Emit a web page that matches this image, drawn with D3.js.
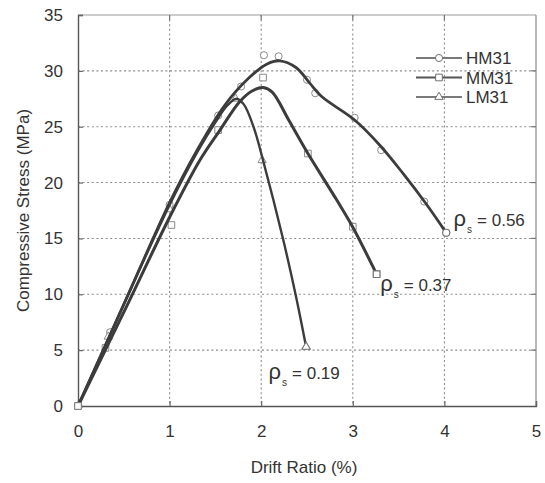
<!DOCTYPE html>
<html>
<head>
<meta charset="utf-8">
<script src="https://cdn.jsdelivr.net/npm/d3@7"></script>
<style>
  html, body { margin: 0; padding: 0; background: #fff; }
  svg { display: block; }
  text { font-family: "Liberation Sans", Arial, sans-serif; fill: #333; }
</style>
</head>
<body>
<svg id="chart" width="545" height="483"></svg>
<script>
// Axis ticks
const xTicks = [0, 1, 2, 3, 4, 5];
const yTicks = [0, 5, 10, 15, 20, 25, 30, 35];

// Series names and legend order
const seriesNames = ["HM31", "MM31", "LM31"];
const seriesSymbols = ["circle", "square", "triangle"];

// Measured points (drift ratio %, compressive stress MPa)
const hm31Points = [[0.35, 6.6], [1.0, 18.0], [1.53, 26.0], [1.78, 28.6], [2.03, 31.4], [2.19, 31.3],
                    [2.5, 29.2], [2.59, 28.0], [3.02, 25.8], [3.31, 22.9], [3.78, 18.3], [4.02, 15.5]];
const mm31Points = [[0, 0], [0.3, 5.2], [1.02, 16.2], [1.53, 24.7], [2.02, 29.4], [2.51, 22.6],
                    [3.0, 16.05], [3.26, 11.8]];
const lm31Points = [[0.33, 6.2], [1.0, 17.6], [1.72, 27.5], [2.01, 22.0], [2.49, 5.3]];

// Fitted envelope curves
const hm31Curve = [[0, 0], [0.5, 9.1], [1.0, 18.2], [1.3, 22.9], [1.6, 26.9], [1.87, 29.4], [2.06, 30.6],
                   [2.2, 30.9], [2.38, 30.3], [2.53, 28.9], [2.66, 27.7], [3.02, 25.6], [3.3, 23.3],
                   [3.55, 20.8], [3.8, 18.1], [4.02, 15.5]];
const mm31Curve = [[0, 0], [0.5, 8.4], [1.0, 16.9], [1.33, 22.0], [1.55, 24.7], [1.76, 27.2], [1.9, 28.2],
                   [2.02, 28.5], [2.12, 28.1], [2.3, 25.6], [2.51, 22.6], [2.82, 18.5],
                   [3.0, 16.0], [3.26, 11.8]];
const lm31Curve = [[0, 0], [0.5, 9.1], [1.0, 18.0], [1.3, 22.7], [1.5, 25.4], [1.63, 26.9], [1.73, 27.5],
                   [1.81, 27.0], [1.92, 24.9], [2.02, 22.0], [2.24, 14.9], [2.38, 9.8], [2.49, 5.3]];

// Reinforcement ratio annotations: [x, y, value]
const rhoLabels = [[4.1, 16.1, "0.56"], [3.3, 10.3, "0.37"], [2.08, 2.4, "0.19"]];

const svg = d3.select("#chart");
const x = d3.scaleLinear().domain([0, 5]).range([78, 536]);
const y = d3.scaleLinear().domain([0, 35]).range([406, 15]);

const L = x(0), R = x(5), T = y(35), B = y(0);

// Dotted grid
const grid = svg.append("g").attr("stroke", "#8c8c8c").attr("stroke-width", 1.1)
  .attr("stroke-dasharray", "2,2.6");
grid.selectAll("line.gx").data(xTicks.slice(1, -1)).join("line")
  .attr("x1", d => x(d)).attr("x2", d => x(d)).attr("y1", T).attr("y2", B);
grid.selectAll("line.gy").data(yTicks.slice(1, -1)).join("line")
  .attr("x1", L).attr("x2", R).attr("y1", d => y(d)).attr("y2", d => y(d));

// Frame
svg.append("line").attr("x1", L).attr("x2", R).attr("y1", T).attr("y2", T).attr("stroke", "#9a9a9a").attr("stroke-width", 1.2);
svg.append("line").attr("x1", R).attr("x2", R).attr("y1", T).attr("y2", B).attr("stroke", "#8a8a8a").attr("stroke-width", 1.2);

// Axes
const xAxis = svg.append("g").attr("transform", `translate(0,${B})`)
  .call(d3.axisBottom(x).tickValues(xTicks).tickFormat(d3.format("d")).tickSize(-5).tickPadding(19));
const yAxis = svg.append("g").attr("transform", `translate(${L},0)`)
  .call(d3.axisLeft(y).tickValues(yTicks).tickFormat(d3.format("d")).tickSize(-5).tickPadding(15));
[xAxis, yAxis].forEach(g => {
  g.select(".domain").attr("stroke", "#555").attr("stroke-width", 1.4);
  g.selectAll(".tick line").attr("stroke", "#666").attr("stroke-width", 1.2);
  g.selectAll(".tick text").attr("font-size", 17).attr("fill", "#333")
    .attr("font-family", "'Liberation Sans', Arial, sans-serif");
});
// Inward ticks on top and right borders
svg.append("g").selectAll("line").data(yTicks.slice(1, -1)).join("line")
  .attr("x1", R).attr("x2", R - 5).attr("y1", d => y(d)).attr("y2", d => y(d))
  .attr("stroke", "#777").attr("stroke-width", 1.2);
svg.append("g").selectAll("line").data(xTicks.slice(1, -1)).join("line")
  .attr("x1", d => x(d)).attr("x2", d => x(d)).attr("y1", T).attr("y2", T + 5)
  .attr("stroke", "#777").attr("stroke-width", 1.2);

// Axis titles
svg.append("text").attr("x", (L + R) / 2 - 3).attr("y", 473).attr("text-anchor", "middle")
  .attr("font-size", 17).text("Drift Ratio (%)");
svg.append("text").attr("transform", `translate(29,${(T + B) / 2}) rotate(-90)`)
  .attr("text-anchor", "middle").attr("font-size", 17).text("Compressive Stress (MPa)");

// Symbol drawing
const symbolSizes = { circle: 40, square: 44, triangle: 30 };
function symbolPath(kind) {
  const t = kind === "circle" ? d3.symbolCircle : kind === "square" ? d3.symbolSquare : d3.symbolTriangle;
  return d3.symbol().type(t).size(symbolSizes[kind])();
}

const line = d3.line().x(d => x(d[0])).y(d => y(d[1])).curve(d3.curveCatmullRom.alpha(0.5));
const curves = [hm31Curve, mm31Curve, lm31Curve];
const widths = [2.8, 3, 2.4];
const points = [hm31Points, mm31Points, lm31Points];

// Markers under the curves
points.forEach((pts, i) => {
  svg.append("g").selectAll("path").data(pts).join("path")
    .attr("transform", d => `translate(${x(d[0])},${y(d[1])})`)
    .attr("d", symbolPath(seriesSymbols[i]))
    .attr("fill", "#fff").attr("stroke", "#8a8a8a").attr("stroke-width", 1);
});

curves.forEach((c, i) => {
  svg.append("path").datum(c).attr("d", line)
    .attr("fill", "none").attr("stroke", "#3c3c3c").attr("stroke-width", widths[i])
    .attr("stroke-linejoin", "round").attr("stroke-linecap", "round");
});

// End markers drawn on top so they stay visible
points.forEach((pts, i) => {
  const last = pts[pts.length - 1];
  svg.append("path").attr("transform", `translate(${x(last[0])},${y(last[1])})`)
    .attr("d", symbolPath(seriesSymbols[i]))
    .attr("fill", "#fff").attr("stroke", "#777").attr("stroke-width", 1.1);
});
// Origin marker
svg.append("path").attr("transform", `translate(${x(0)},${y(0)})`)
  .attr("d", symbolPath("square")).attr("fill", "#fff").attr("stroke", "#777");

// Legend
const legend = svg.append("g");
seriesNames.forEach((name, i) => {
  const ly = 58 + i * 19.5;
  legend.append("line").attr("x1", 416).attr("x2", 462).attr("y1", ly).attr("y2", ly)
    .attr("stroke", i === 1 ? "#555" : "#7a7a7a").attr("stroke-width", i === 1 ? 2.2 : 1.8);
  legend.append("path").attr("transform", `translate(439,${ly})`)
    .attr("d", symbolPath(seriesSymbols[i]))
    .attr("fill", "#fff").attr("stroke", "#707070").attr("stroke-width", 1);
  legend.append("text").attr("x", 466).attr("y", ly + 6).attr("font-size", 17).text(name);
});

// Reinforcement ratio labels
rhoLabels.forEach(([dx, dy, v]) => {
  const t = svg.append("text").attr("x", x(dx)).attr("y", y(dy)).attr("font-size", 17);
  t.append("tspan").attr("font-size", 22).text("ρ");
  t.append("tspan").attr("font-size", 10).attr("dy", 7).attr("dx", 1).text("s");
  t.append("tspan").attr("dy", -7).attr("dx", 5).text("= " + v);
});
</script>
</body>
</html>
